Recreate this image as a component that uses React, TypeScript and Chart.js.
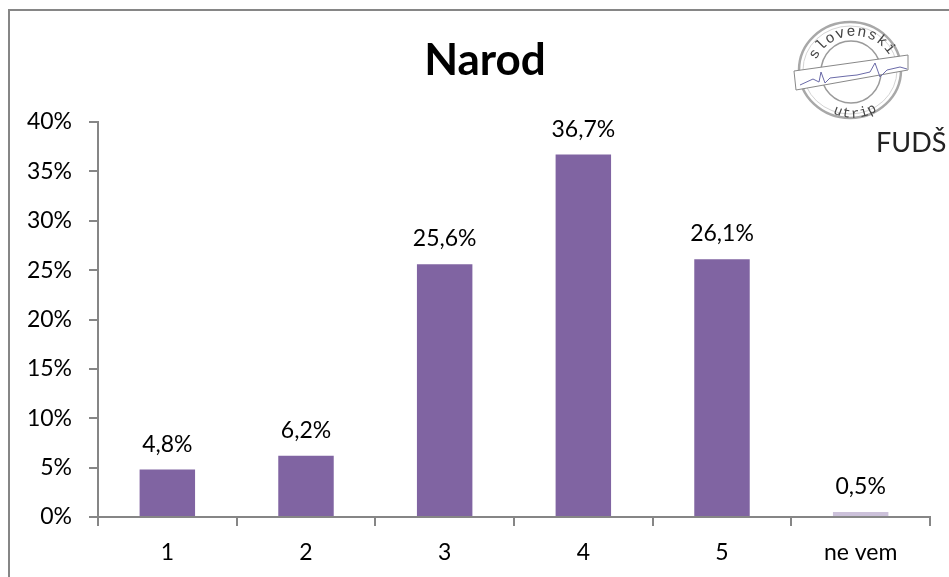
import React, { useEffect, useRef } from "react";
import { Chart, registerables } from "chart.js";

Chart.register(...registerables);

const categories = ["1", "2", "3", "4", "5", "ne vem"];
const values = [4.8, 6.2, 25.6, 36.7, 26.1, 0.5];
const barColors = ["#8064a2", "#8064a2", "#8064a2", "#8064a2", "#8064a2", "#ccc1da"];
const titleText = "Narod";
const FONT = "Lato, 'Open Sans', sans-serif";

const valueLabels = {
  id: "valueLabels",
  afterDatasetsDraw(chart: any) {
    const { ctx } = chart;
    const meta = chart.getDatasetMeta(0);
    ctx.save();
    ctx.font = `23px ${FONT}`;
    ctx.fillStyle = "#000";
    ctx.textAlign = "center";
    ctx.textBaseline = "alphabetic";
    meta.data.forEach((bar: any, i: number) => {
      ctx.fillText(values[i].toFixed(1).replace(".", ",") + "%", bar.x, bar.y - 18);
    });
    ctx.font = `bold 44px ${FONT}`;
    ctx.fillText(titleText, 485, 75);
    ctx.restore();
  },
};

function Logo() {
  return (
    <svg width={949} height={577} style={{ position: "absolute", left: 0, top: 0, pointerEvents: "none" }}>
      <defs>
        <path id="arcTop" d="M 816 60 A 42 42 0 0 1 890 56" fill="none" />
        <path id="arcBottom" d="M 833 113 A 45 45 0 0 0 881 108" fill="none" />
      </defs>
      <ellipse cx={850} cy={70} rx={51} ry={48} fill="#fff" stroke="#a8a8a8" strokeWidth={2.5} />
      <ellipse cx={850} cy={70} rx={47} ry={44} fill="none" stroke="#d4d4d4" strokeWidth={1} />
      <ellipse cx={851} cy={72} rx={30} ry={31} fill="#fff" stroke="#9a9a9a" strokeWidth={1.5} />
      <text fontFamily="'Liberation Mono', monospace" fontSize={15} fill="#444" letterSpacing={1}>
        <textPath href="#arcTop">slovenski</textPath>
      </text>
      <text fontFamily="'Liberation Mono', monospace" fontSize={14} fill="#444" letterSpacing={1}>
        <textPath href="#arcBottom">utrip</textPath>
      </text>
      <polygon points="794,71 908,55 908,70 796,90" fill="#fff" stroke="#888" strokeWidth={1} />
      <polyline
        points="800,85 813,79 819,82 821,72 825,83 830,78 847,76 857,75 870,72 875,63 880,77 887,70 900,67 907,69"
        fill="none"
        stroke="#6a6aa8"
        strokeWidth={1}
      />
      <text x={876} y={152} fontFamily={FONT} fontSize={27} fill="#222">FUDŠ</text>
    </svg>
  );
}

export default function App() {
  const ref = useRef<HTMLCanvasElement>(null);
  useEffect(() => {
    const chart = new Chart(ref.current!, {
      type: "bar",
      data: {
        labels: categories,
        datasets: [{ data: values, backgroundColor: barColors, barPercentage: 0.4, categoryPercentage: 1 }],
      },
      plugins: [valueLabels],
      options: {
        animation: false,
        responsive: false,
        layout: { padding: { left: 0, right: 19, top: 122, bottom: 0 } },
        plugins: {
          legend: { display: false },
          tooltip: { enabled: false },
        },
        scales: {
          x: {
            grid: { drawOnChartArea: false, color: "#868686", lineWidth: 2, tickLength: 9, offset: true },
            border: { color: "#868686", width: 2 },
            ticks: { color: "#000", font: { family: FONT, size: 23 }, padding: 13, maxRotation: 0 },
            afterFit(s: any) { s.height = 60; },
          },
          y: {
            min: 0,
            max: 40,
            grid: { drawOnChartArea: false, color: "#868686", lineWidth: 2, tickLength: 9 },
            border: { color: "#868686", width: 2 },
            ticks: { stepSize: 5, color: "#000", font: { family: FONT, size: 23 }, padding: 17, callback: (v: any) => v + "%" },
            afterFit(s: any) { s.width = 98; },
          },
        },
      },
    } as any);
    return () => chart.destroy();
  }, []);
  return (
    <div style={{ position: "absolute", left: 0, top: 0, width: 949, height: 577, background: "#fff", overflow: "hidden" }}>
      <canvas ref={ref} width={949} height={577} style={{ display: "block" }} />
      <div style={{ position: "absolute", left: 8, top: 9, width: 1000, height: 700, border: "2px solid #868686" }} />
      <Logo />
    </div>
  );
}
